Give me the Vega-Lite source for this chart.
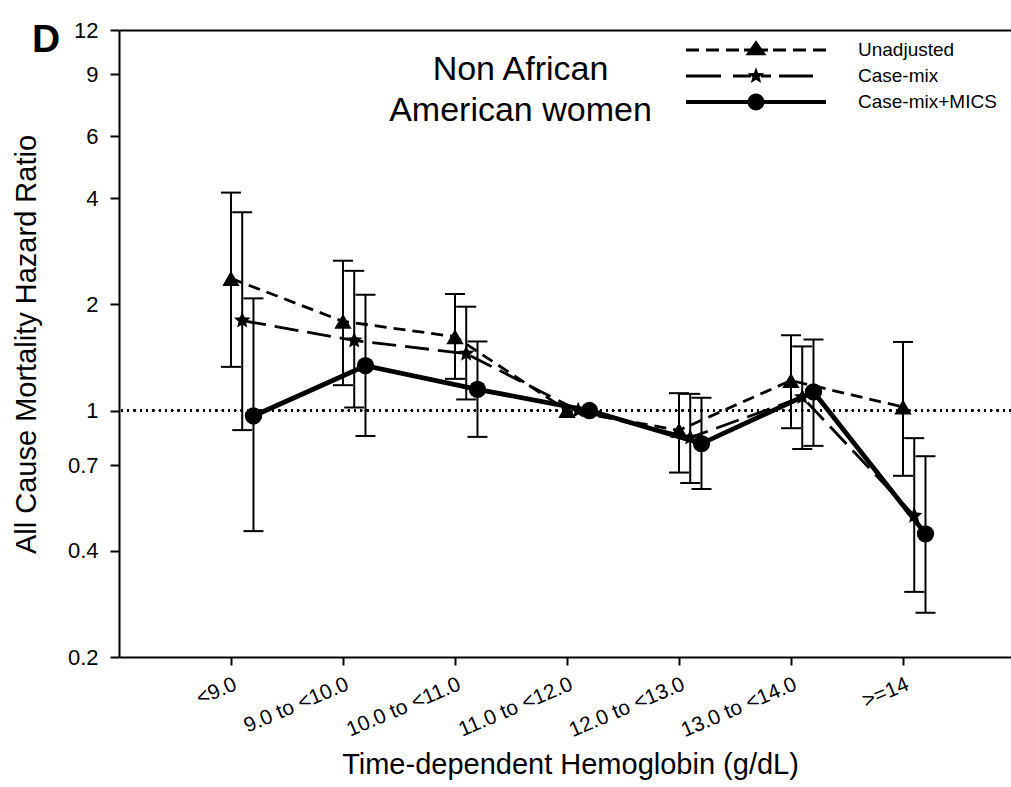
{
  "$schema": "https://vega.github.io/schema/vega-lite/v6.json",
  "width": 892,
  "height": 627,
  "autosize": {"type": "none"},
  "padding": {"left": 119, "top": 30, "right": 0, "bottom": 130},
  "background": "white",
  "config": {
    "font": "Liberation Sans",
    "view": {"stroke": null},
    "axis": {"domainColor": "black", "tickColor": "black", "labelColor": "black", "titleColor": "black", "grid": false, "domainWidth": 2, "tickWidth": 2, "labelFont": "Liberation Sans", "titleFont": "Liberation Sans", "titleFontWeight": "normal"}
  },
  "title": {"text": "D", "anchor": "start", "frame": "group", "orient": "top", "dx": -87, "offset": -72, "baseline": "alphabetic", "fontSize": 39, "fontWeight": "bold", "font": "Liberation Sans", "color": "black"},
  "data": {"values": [
    {"cat": "<9.0", "series": "Unadjusted", "hr": 2.37, "lo": 1.33, "hi": 4.15},
    {"cat": "<9.0", "series": "Case-mix", "hr": 1.80, "lo": 0.88, "hi": 3.65},
    {"cat": "<9.0", "series": "Case-mix+MICS", "hr": 0.965, "lo": 0.455, "hi": 2.08},
    {"cat": "9.0 to <10.0", "series": "Unadjusted", "hr": 1.79, "lo": 1.18, "hi": 2.66},
    {"cat": "9.0 to <10.0", "series": "Case-mix", "hr": 1.58, "lo": 1.02, "hi": 2.49},
    {"cat": "9.0 to <10.0", "series": "Case-mix+MICS", "hr": 1.34, "lo": 0.847, "hi": 2.13},
    {"cat": "10.0 to <11.0", "series": "Unadjusted", "hr": 1.62, "lo": 1.23, "hi": 2.14},
    {"cat": "10.0 to <11.0", "series": "Case-mix", "hr": 1.45, "lo": 1.075, "hi": 1.97},
    {"cat": "10.0 to <11.0", "series": "Case-mix+MICS", "hr": 1.148, "lo": 0.842, "hi": 1.57},
    {"cat": "11.0 to <12.0", "series": "Unadjusted", "hr": 1.0, "lo": null, "hi": null},
    {"cat": "11.0 to <12.0", "series": "Case-mix", "hr": 1.0, "lo": null, "hi": null},
    {"cat": "11.0 to <12.0", "series": "Case-mix+MICS", "hr": 1.0, "lo": null, "hi": null},
    {"cat": "12.0 to <13.0", "series": "Unadjusted", "hr": 0.879, "lo": 0.667, "hi": 1.12},
    {"cat": "12.0 to <13.0", "series": "Case-mix", "hr": 0.838, "lo": 0.623, "hi": 1.115},
    {"cat": "12.0 to <13.0", "series": "Case-mix+MICS", "hr": 0.806, "lo": 0.599, "hi": 1.087},
    {"cat": "13.0 to <14.0", "series": "Unadjusted", "hr": 1.217, "lo": 0.891, "hi": 1.635},
    {"cat": "13.0 to <14.0", "series": "Case-mix", "hr": 1.092, "lo": 0.778, "hi": 1.52},
    {"cat": "13.0 to <14.0", "series": "Case-mix+MICS", "hr": 1.13, "lo": 0.794, "hi": 1.59},
    {"cat": ">=14", "series": "Unadjusted", "hr": 1.023, "lo": 0.653, "hi": 1.565},
    {"cat": ">=14", "series": "Case-mix", "hr": 0.503, "lo": 0.306, "hi": 0.835},
    {"cat": ">=14", "series": "Case-mix+MICS", "hr": 0.447, "lo": 0.267, "hi": 0.742}
  ]},
  "resolve": {"axis": {"x": "independent"}},
  "layer": [
    {
      "mark": {"type": "rule", "strokeDash": [1.6, 4.7], "strokeWidth": 1.6, "color": "black"},
      "encoding": {
        "y": {"datum": 1, "type": "quantitative", "scale": {"type": "log", "domain": [0.2, 12], "nice": false, "zero": false},
          "axis": {"title": "All Cause Mortality Hazard Ratio", "values": [0.2, 0.4, 0.7, 1, 2, 4, 6, 9, 12], "labelExpr": "format(datum.value, '~g')", "labelFontSize": 22, "labelPadding": 12, "tickSize": 9, "titleFontSize": 29, "titleX": -84, "titleY": 314, "titleAngle": -90, "titleAlign": "center", "titleBaseline": "alphabetic", "labelFlush": false, "labelOverlap": false, "labelBound": false}}
      }
    },
    {
      "transform": [{"filter": "isValid(datum.lo)"}],
      "mark": {"type": "rule", "strokeWidth": 2, "color": "black"},
      "encoding": {
        "x": {"field": "cat", "type": "ordinal",
          "scale": {"type": "point", "domain": ["<9.0", "9.0 to <10.0", "10.0 to <11.0", "11.0 to <12.0", "12.0 to <13.0", "13.0 to <14.0", ">=14"], "padding": 0.982, "align": 0.509},
          "axis": {"orient": "bottom", "title": "Time-dependent Hemoglobin (g/dL)", "titleFontSize": 29, "titleX": 451, "titleY": 116, "titleBaseline": "alphabetic", "titleAlign": "center", "labelAngle": -23, "labelAlign": "right", "labelBaseline": "top", "labelFontSize": 21, "labelPadding": 8, "tickSize": 8, "labelOverlap": false, "labelFlush": false, "labelBound": false}},
        "xOffset": {"field": "series", "type": "nominal", "scale": {"type": "point", "domain": ["Unadjusted", "Case-mix", "Case-mix+MICS"], "range": [0, 22.5], "padding": 0}},
        "y": {"field": "lo", "type": "quantitative", "scale": {"type": "log", "domain": [0.2, 12], "nice": false, "zero": false},
          "axis": {"title": "All Cause Mortality Hazard Ratio", "values": [0.2, 0.4, 0.7, 1, 2, 4, 6, 9, 12], "labelExpr": "format(datum.value, '~g')", "labelFontSize": 22, "labelPadding": 12, "tickSize": 9, "titleFontSize": 29, "titleX": -84, "titleY": 314, "titleAngle": -90, "titleAlign": "center", "titleBaseline": "alphabetic", "labelFlush": false, "labelOverlap": false, "labelBound": false}},
        "y2": {"field": "hi"}
      }
    },
    {
      "transform": [{"filter": "isValid(datum.lo)"}],
      "mark": {"type": "tick", "orient": "horizontal", "size": 20, "thickness": 2, "color": "black", "opacity": 1},
      "encoding": {
        "x": {"field": "cat", "type": "ordinal", "scale": {"type": "point", "domain": ["<9.0", "9.0 to <10.0", "10.0 to <11.0", "11.0 to <12.0", "12.0 to <13.0", "13.0 to <14.0", ">=14"], "padding": 0.982, "align": 0.509}, "axis": null},
        "xOffset": {"field": "series", "type": "nominal", "scale": {"type": "point", "domain": ["Unadjusted", "Case-mix", "Case-mix+MICS"], "range": [0, 22.5], "padding": 0}},
        "y": {"field": "lo", "type": "quantitative", "scale": {"type": "log", "domain": [0.2, 12], "nice": false, "zero": false},
          "axis": {"title": "All Cause Mortality Hazard Ratio", "values": [0.2, 0.4, 0.7, 1, 2, 4, 6, 9, 12], "labelExpr": "format(datum.value, '~g')", "labelFontSize": 22, "labelPadding": 12, "tickSize": 9, "titleFontSize": 29, "titleX": -84, "titleY": 314, "titleAngle": -90, "titleAlign": "center", "titleBaseline": "alphabetic", "labelFlush": false, "labelOverlap": false, "labelBound": false}}
      }
    },
    {
      "transform": [{"filter": "isValid(datum.hi)"}],
      "mark": {"type": "tick", "orient": "horizontal", "size": 20, "thickness": 2, "color": "black", "opacity": 1},
      "encoding": {
        "x": {"field": "cat", "type": "ordinal", "scale": {"type": "point", "domain": ["<9.0", "9.0 to <10.0", "10.0 to <11.0", "11.0 to <12.0", "12.0 to <13.0", "13.0 to <14.0", ">=14"], "padding": 0.982, "align": 0.509}, "axis": null},
        "xOffset": {"field": "series", "type": "nominal", "scale": {"type": "point", "domain": ["Unadjusted", "Case-mix", "Case-mix+MICS"], "range": [0, 22.5], "padding": 0}},
        "y": {"field": "hi", "type": "quantitative", "scale": {"type": "log", "domain": [0.2, 12], "nice": false, "zero": false},
          "axis": {"title": "All Cause Mortality Hazard Ratio", "values": [0.2, 0.4, 0.7, 1, 2, 4, 6, 9, 12], "labelExpr": "format(datum.value, '~g')", "labelFontSize": 22, "labelPadding": 12, "tickSize": 9, "titleFontSize": 29, "titleX": -84, "titleY": 314, "titleAngle": -90, "titleAlign": "center", "titleBaseline": "alphabetic", "labelFlush": false, "labelOverlap": false, "labelBound": false}}
      }
    },
    {
      "transform": [{"filter": "datum.series === 'Unadjusted'"}],
      "mark": {"type": "line", "color": "black", "strokeDash": [12, 7], "strokeWidth": 2.8},
      "encoding": {
        "x": {"field": "cat", "type": "ordinal", "scale": {"type": "point", "domain": ["<9.0", "9.0 to <10.0", "10.0 to <11.0", "11.0 to <12.0", "12.0 to <13.0", "13.0 to <14.0", ">=14"], "padding": 0.982, "align": 0.509}, "axis": null},
        "xOffset": {"field": "series", "type": "nominal", "scale": {"type": "point", "domain": ["Unadjusted", "Case-mix", "Case-mix+MICS"], "range": [0, 22.5], "padding": 0}},
        "y": {"field": "hr", "type": "quantitative", "scale": {"type": "log", "domain": [0.2, 12], "nice": false, "zero": false},
          "axis": {"title": "All Cause Mortality Hazard Ratio", "values": [0.2, 0.4, 0.7, 1, 2, 4, 6, 9, 12], "labelExpr": "format(datum.value, '~g')", "labelFontSize": 22, "labelPadding": 12, "tickSize": 9, "titleFontSize": 29, "titleX": -84, "titleY": 314, "titleAngle": -90, "titleAlign": "center", "titleBaseline": "alphabetic", "labelFlush": false, "labelOverlap": false, "labelBound": false}}
      }
    },
    {
      "transform": [{"filter": "datum.series === 'Case-mix'"}],
      "mark": {"type": "line", "color": "black", "strokeDash": [24, 9], "strokeWidth": 2.8},
      "encoding": {
        "x": {"field": "cat", "type": "ordinal", "scale": {"type": "point", "domain": ["<9.0", "9.0 to <10.0", "10.0 to <11.0", "11.0 to <12.0", "12.0 to <13.0", "13.0 to <14.0", ">=14"], "padding": 0.982, "align": 0.509}, "axis": null},
        "xOffset": {"field": "series", "type": "nominal", "scale": {"type": "point", "domain": ["Unadjusted", "Case-mix", "Case-mix+MICS"], "range": [0, 22.5], "padding": 0}},
        "y": {"field": "hr", "type": "quantitative", "scale": {"type": "log", "domain": [0.2, 12], "nice": false, "zero": false},
          "axis": {"title": "All Cause Mortality Hazard Ratio", "values": [0.2, 0.4, 0.7, 1, 2, 4, 6, 9, 12], "labelExpr": "format(datum.value, '~g')", "labelFontSize": 22, "labelPadding": 12, "tickSize": 9, "titleFontSize": 29, "titleX": -84, "titleY": 314, "titleAngle": -90, "titleAlign": "center", "titleBaseline": "alphabetic", "labelFlush": false, "labelOverlap": false, "labelBound": false}}
      }
    },
    {
      "transform": [{"filter": "datum.series === 'Case-mix+MICS'"}],
      "mark": {"type": "line", "color": "black", "strokeWidth": 4.8},
      "encoding": {
        "x": {"field": "cat", "type": "ordinal", "scale": {"type": "point", "domain": ["<9.0", "9.0 to <10.0", "10.0 to <11.0", "11.0 to <12.0", "12.0 to <13.0", "13.0 to <14.0", ">=14"], "padding": 0.982, "align": 0.509}, "axis": null},
        "xOffset": {"field": "series", "type": "nominal", "scale": {"type": "point", "domain": ["Unadjusted", "Case-mix", "Case-mix+MICS"], "range": [0, 22.5], "padding": 0}},
        "y": {"field": "hr", "type": "quantitative", "scale": {"type": "log", "domain": [0.2, 12], "nice": false, "zero": false},
          "axis": {"title": "All Cause Mortality Hazard Ratio", "values": [0.2, 0.4, 0.7, 1, 2, 4, 6, 9, 12], "labelExpr": "format(datum.value, '~g')", "labelFontSize": 22, "labelPadding": 12, "tickSize": 9, "titleFontSize": 29, "titleX": -84, "titleY": 314, "titleAngle": -90, "titleAlign": "center", "titleBaseline": "alphabetic", "labelFlush": false, "labelOverlap": false, "labelBound": false}}
      }
    },
    {
      "transform": [{"filter": "datum.series === 'Unadjusted'"}],
      "mark": {"type": "point", "filled": true, "color": "black", "opacity": 1, "size": 300, "shape": "triangle-up"},
      "encoding": {
        "x": {"field": "cat", "type": "ordinal", "scale": {"type": "point", "domain": ["<9.0", "9.0 to <10.0", "10.0 to <11.0", "11.0 to <12.0", "12.0 to <13.0", "13.0 to <14.0", ">=14"], "padding": 0.982, "align": 0.509}, "axis": null},
        "xOffset": {"field": "series", "type": "nominal", "scale": {"type": "point", "domain": ["Unadjusted", "Case-mix", "Case-mix+MICS"], "range": [0, 22.5], "padding": 0}},
        "y": {"field": "hr", "type": "quantitative", "scale": {"type": "log", "domain": [0.2, 12], "nice": false, "zero": false},
          "axis": {"title": "All Cause Mortality Hazard Ratio", "values": [0.2, 0.4, 0.7, 1, 2, 4, 6, 9, 12], "labelExpr": "format(datum.value, '~g')", "labelFontSize": 22, "labelPadding": 12, "tickSize": 9, "titleFontSize": 29, "titleX": -84, "titleY": 314, "titleAngle": -90, "titleAlign": "center", "titleBaseline": "alphabetic", "labelFlush": false, "labelOverlap": false, "labelBound": false}}
      }
    },
    {
      "transform": [{"filter": "datum.series === 'Case-mix'"}],
      "mark": {"type": "point", "filled": true, "color": "black", "opacity": 1, "size": 300, "shape": "M0,-1L0.265,-0.364L0.951,-0.309L0.428,0.139L0.588,0.809L0,0.45L-0.588,0.809L-0.428,0.139L-0.951,-0.309L-0.265,-0.364Z"},
      "encoding": {
        "x": {"field": "cat", "type": "ordinal", "scale": {"type": "point", "domain": ["<9.0", "9.0 to <10.0", "10.0 to <11.0", "11.0 to <12.0", "12.0 to <13.0", "13.0 to <14.0", ">=14"], "padding": 0.982, "align": 0.509}, "axis": null},
        "xOffset": {"field": "series", "type": "nominal", "scale": {"type": "point", "domain": ["Unadjusted", "Case-mix", "Case-mix+MICS"], "range": [0, 22.5], "padding": 0}},
        "y": {"field": "hr", "type": "quantitative", "scale": {"type": "log", "domain": [0.2, 12], "nice": false, "zero": false},
          "axis": {"title": "All Cause Mortality Hazard Ratio", "values": [0.2, 0.4, 0.7, 1, 2, 4, 6, 9, 12], "labelExpr": "format(datum.value, '~g')", "labelFontSize": 22, "labelPadding": 12, "tickSize": 9, "titleFontSize": 29, "titleX": -84, "titleY": 314, "titleAngle": -90, "titleAlign": "center", "titleBaseline": "alphabetic", "labelFlush": false, "labelOverlap": false, "labelBound": false}}
      }
    },
    {
      "transform": [{"filter": "datum.series === 'Case-mix+MICS'"}],
      "mark": {"type": "point", "filled": true, "color": "black", "opacity": 1, "size": 300, "shape": "circle"},
      "encoding": {
        "x": {"field": "cat", "type": "ordinal", "scale": {"type": "point", "domain": ["<9.0", "9.0 to <10.0", "10.0 to <11.0", "11.0 to <12.0", "12.0 to <13.0", "13.0 to <14.0", ">=14"], "padding": 0.982, "align": 0.509},
          "axis": {"orient": "top", "ticks": false, "labels": false, "domain": true, "title": ["Non African", "American women"], "titleX": 401, "titleY": 49, "titleAlign": "center", "titleBaseline": "alphabetic", "titleAngle": 0, "titleFontSize": 34, "titleLineHeight": 41}},
        "xOffset": {"field": "series", "type": "nominal", "scale": {"type": "point", "domain": ["Unadjusted", "Case-mix", "Case-mix+MICS"], "range": [0, 22.5], "padding": 0}},
        "y": {"field": "hr", "type": "quantitative", "scale": {"type": "log", "domain": [0.2, 12], "nice": false, "zero": false},
          "axis": {"title": "All Cause Mortality Hazard Ratio", "values": [0.2, 0.4, 0.7, 1, 2, 4, 6, 9, 12], "labelExpr": "format(datum.value, '~g')", "labelFontSize": 22, "labelPadding": 12, "tickSize": 9, "titleFontSize": 29, "titleX": -84, "titleY": 314, "titleAngle": -90, "titleAlign": "center", "titleBaseline": "alphabetic", "labelFlush": false, "labelOverlap": false, "labelBound": false}}
      }
    },
    {
      "mark": {"type": "point", "filled": true, "color": "black", "size": 0},
      "encoding": {
        "x": {"field": "cat", "type": "ordinal", "scale": {"type": "point", "domain": ["<9.0", "9.0 to <10.0", "10.0 to <11.0", "11.0 to <12.0", "12.0 to <13.0", "13.0 to <14.0", ">=14"], "padding": 0.982, "align": 0.509}, "axis": null},
        "xOffset": {"field": "series", "type": "nominal", "scale": {"type": "point", "domain": ["Unadjusted", "Case-mix", "Case-mix+MICS"], "range": [0, 22.5], "padding": 0}},
        "y": {"field": "hr", "type": "quantitative", "scale": {"type": "log", "domain": [0.2, 12], "nice": false, "zero": false},
          "axis": {"title": "All Cause Mortality Hazard Ratio", "values": [0.2, 0.4, 0.7, 1, 2, 4, 6, 9, 12], "labelExpr": "format(datum.value, '~g')", "labelFontSize": 22, "labelPadding": 12, "tickSize": 9, "titleFontSize": 29, "titleX": -84, "titleY": 314, "titleAngle": -90, "titleAlign": "center", "titleBaseline": "alphabetic", "labelFlush": false, "labelOverlap": false, "labelBound": false}},
        "shape": {"field": "series", "type": "nominal",
          "scale": {"domain": ["Unadjusted", "Case-mix", "Case-mix+MICS"], "range": [
            "M-1,-0.021H-0.814V0.021H-1Z M-0.714,-0.021H-0.529V0.021H-0.714Z M-0.429,-0.021H-0.243V0.021H-0.429Z M-0.171,-0.021H0.171V0.021H-0.171Z M0.243,-0.021H0.429V0.021H0.243Z M0.529,-0.021H0.714V0.021H0.529Z M0.814,-0.021H1V0.021H0.814Z M0,-0.14L0.15,0.075L-0.15,0.075Z",
            "M-1,-0.021H-0.5V0.021H-1Z M-0.329,-0.021H-0.071V0.021H-0.329Z M0.071,-0.021H0.214V0.021H0.071Z M0.329,-0.021H0.814V0.021H0.329Z M0,-0.125L0.03,-0.042L0.119,-0.039L0.05,0.016L0.074,0.101L0,0.053L-0.074,0.101L-0.05,0.016L-0.119,-0.039L-0.03,-0.042Z",
            "M-1,-0.029H1V0.029H-1Z M-0.121,0A0.121,0.121,0,1,1,0.121,0A0.121,0.121,0,1,1,-0.121,0Z"
          ]},
          "legend": {"orient": "none", "legendX": 567, "legendY": 7, "title": null, "padding": 0, "rowPadding": 0, "clipHeight": 26, "symbolSize": 19600, "symbolStrokeWidth": 0, "symbolFillColor": "black", "symbolOpacity": 1, "labelFontSize": 19, "labelOffset": 32, "labelColor": "black", "labelFont": "Liberation Sans", "labelBaseline": "middle", "labelLimit": 300}
        }
      }
    }
  ]
}
